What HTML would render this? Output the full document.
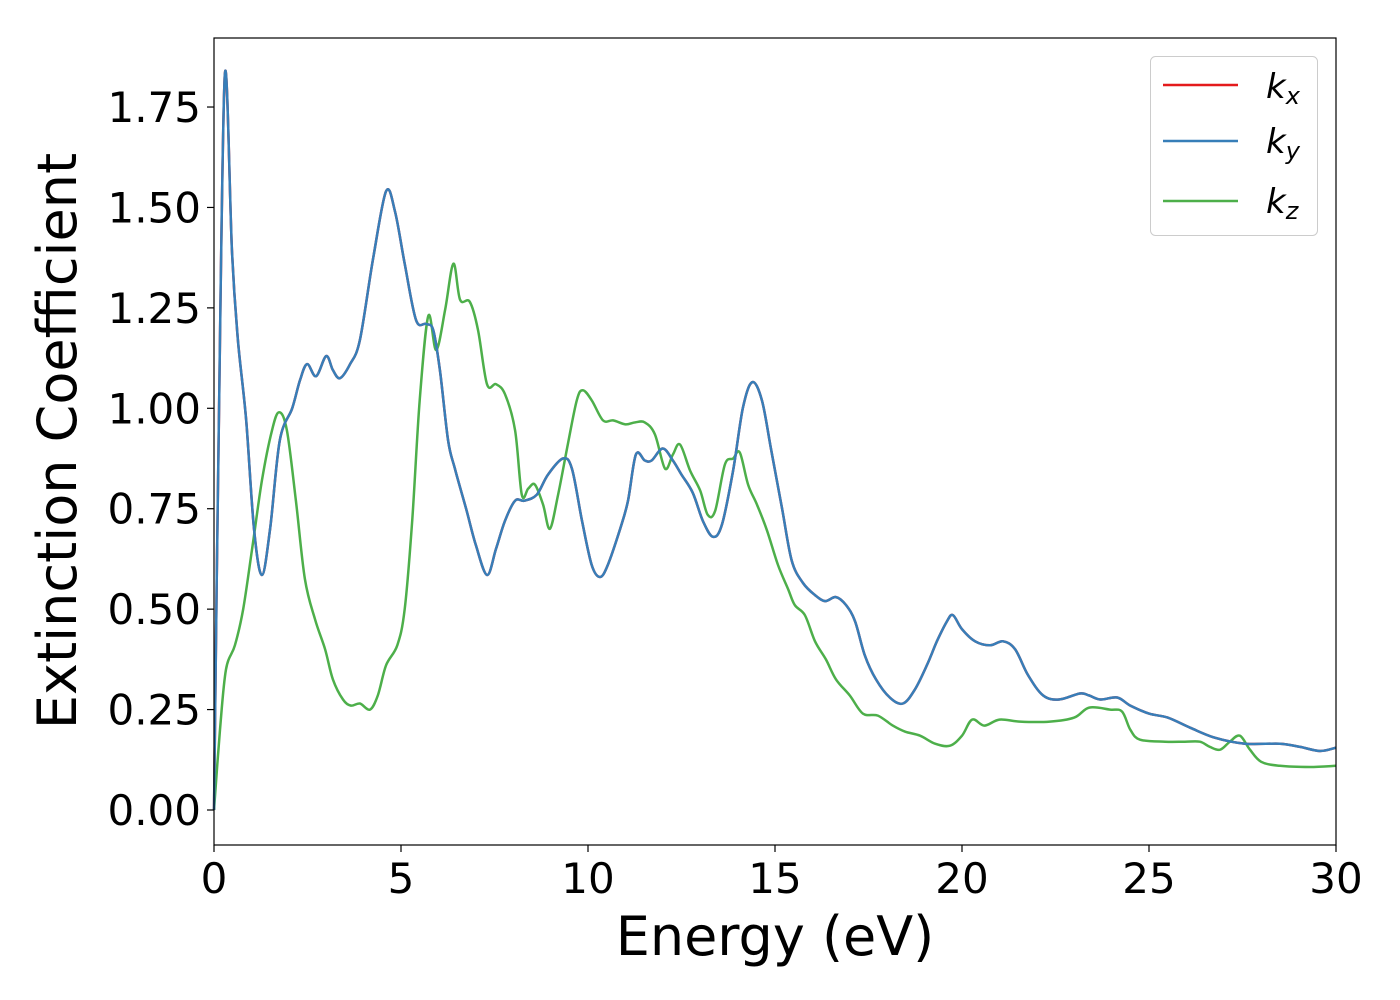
<!DOCTYPE html>
<html><head><meta charset="utf-8"><style>
body{margin:0;background:#fff;}
svg{display:block;font-family:"DejaVu Sans","Liberation Sans",sans-serif;}
</style></head><body>
<svg id="chart" width="1400" height="1000">
<g id="grid"></g>
<g id="series"></g>
<rect x="214" y="38" width="1122" height="807" fill="none" stroke="#000" stroke-width="1.2"/>
<g id="ticks"></g>
<text x="775" y="955" font-size="54" text-anchor="middle">Energy (eV)</text>
<text transform="translate(76,441) rotate(-90)" font-size="54" text-anchor="middle">Extinction Coefficient</text>
<g>
<rect x="1150.5" y="56.5" width="167" height="179" rx="5" fill="#fff" fill-opacity="0.8" stroke="#ccc"/>
<line x1="1163" y1="85" x2="1238" y2="85" stroke="#e41a1c" stroke-width="2.5"/>
<text x="1266" y="98" font-size="34" font-style="italic">k<tspan font-size="24" dy="6">x</tspan></text>
<line x1="1163" y1="141" x2="1238" y2="141" stroke="#377eb8" stroke-width="2.5"/>
<text x="1266" y="153" font-size="34" font-style="italic">k<tspan font-size="24" dy="6">y</tspan></text>
<line x1="1163" y1="201" x2="1238" y2="201" stroke="#4daf4a" stroke-width="2.5"/>
<text x="1266" y="213" font-size="34" font-style="italic">k<tspan font-size="24" dy="6">z</tspan></text>
</g>
</svg>
<script>
const xTicks=[0,5,10,15,20,25,30];
const yTicks=[0,0.25,0.5,0.75,1.0,1.25,1.5,1.75];
const yTickLabels=["0.00","0.25","0.50","0.75","1.00","1.25","1.50","1.75"];
const energyXY=[0,0.12,0.29,0.48,0.64,0.86,1.07,1.28,1.5,1.76,2.09,2.3,2.49,2.73,3.0,3.18,3.37,3.64,3.9,4.25,4.6,4.84,5.1,5.4,5.67,5.86,6.04,6.26,6.44,6.74,7.0,7.3,7.54,7.78,8.05,8.3,8.63,8.93,9.33,9.57,9.84,10.1,10.32,10.53,10.86,11.07,11.28,11.52,11.7,12.0,12.27,12.5,12.8,13.07,13.34,13.58,13.88,14.14,14.39,14.65,14.9,15.19,15.45,15.75,16.07,16.34,16.63,16.9,17.14,17.4,17.7,18.07,18.42,18.74,19.06,19.33,19.6,19.76,20.0,20.35,20.75,21.1,21.42,21.77,22.17,22.6,23.15,23.4,23.7,24.15,24.5,25.0,25.5,26.1,26.76,27.57,28.5,29.04,29.57,30];
const kxy=[0,0.9,1.83,1.39,1.17,0.97,0.70,0.585,0.70,0.92,1.0,1.07,1.11,1.08,1.13,1.095,1.075,1.11,1.17,1.37,1.54,1.49,1.36,1.22,1.21,1.195,1.095,0.92,0.85,0.75,0.66,0.585,0.65,0.72,0.77,0.77,0.785,0.835,0.875,0.85,0.72,0.61,0.58,0.61,0.70,0.77,0.885,0.87,0.87,0.90,0.87,0.835,0.79,0.72,0.68,0.71,0.845,1.0,1.065,1.02,0.895,0.75,0.62,0.565,0.535,0.52,0.53,0.51,0.47,0.385,0.325,0.28,0.265,0.30,0.36,0.42,0.47,0.485,0.45,0.42,0.41,0.42,0.40,0.335,0.285,0.275,0.29,0.285,0.275,0.28,0.26,0.24,0.23,0.205,0.18,0.165,0.165,0.157,0.147,0.155];
const energyZ=[0,0.16,0.32,0.56,0.78,1.02,1.28,1.55,1.74,1.95,2.19,2.43,2.7,2.97,3.18,3.45,3.66,3.9,4.17,4.38,4.6,4.9,5.1,5.3,5.5,5.73,5.94,6.18,6.4,6.58,6.84,7.06,7.3,7.54,7.78,8.05,8.23,8.4,8.58,8.8,8.98,9.2,9.46,9.7,9.86,10.1,10.4,10.67,11.0,11.26,11.52,11.79,12.06,12.27,12.46,12.73,13.0,13.2,13.4,13.66,13.88,14.06,14.28,14.52,14.79,15.08,15.35,15.53,15.8,16.07,16.36,16.63,17.0,17.35,17.75,18.15,18.48,18.88,19.28,19.68,20.0,20.27,20.6,21.0,21.55,22.35,23.0,23.4,23.96,24.28,24.5,24.76,25.43,25.96,26.36,26.63,26.9,27.16,27.43,27.7,28.0,28.5,29.3,30];
const kz=[0,0.2,0.35,0.41,0.5,0.65,0.82,0.945,0.99,0.945,0.77,0.575,0.475,0.40,0.325,0.275,0.26,0.265,0.25,0.285,0.36,0.41,0.5,0.72,1.02,1.23,1.145,1.245,1.36,1.27,1.265,1.195,1.06,1.06,1.035,0.945,0.785,0.80,0.81,0.76,0.70,0.785,0.91,1.02,1.045,1.02,0.97,0.97,0.96,0.965,0.965,0.935,0.85,0.885,0.91,0.845,0.795,0.735,0.745,0.86,0.875,0.89,0.81,0.76,0.695,0.61,0.55,0.51,0.485,0.42,0.375,0.325,0.285,0.24,0.235,0.21,0.195,0.185,0.165,0.16,0.185,0.225,0.21,0.225,0.22,0.22,0.23,0.255,0.25,0.245,0.2,0.175,0.17,0.17,0.17,0.157,0.15,0.17,0.185,0.15,0.12,0.11,0.107,0.11];
const NS="http://www.w3.org/2000/svg";
const X=v=>214+v*(1122/30);
const Y=v=>810-v*401.7;
const tg=document.getElementById('ticks');
function mk(tag,attrs,parent){const e=document.createElementNS(NS,tag);for(const k in attrs)e.setAttribute(k,attrs[k]);parent.appendChild(e);return e;}
xTicks.forEach(t=>{
 const l=mk('line',{x1:X(t),x2:X(t),y1:845,y2:852,stroke:'#000','stroke-width':1.2},tg);
 
 
 const tx=mk('text',{x:X(t),y:893,'font-size':42,'text-anchor':'middle'},tg);
 
 
 tx.textContent=t;
});
yTicks.forEach((t,i)=>{
 const l=mk('line',{x1:207,x2:214,y1:Y(t),y2:Y(t),stroke:'#000','stroke-width':1.2},tg);
 
 
 const tx=mk('text',{x:201,y:Y(t)+15,'font-size':42,'text-anchor':'end'},tg);
 
 
 tx.textContent=yTickLabels[i];
});
function smooth(xs,ys){
 const p=xs.map((x,i)=>[X(x),Y(ys[i])]);
 let d='M'+p[0][0]+','+p[0][1];
 for(let i=0;i<p.length-1;i++){
  const p0=p[Math.max(0,i-1)],p1=p[i],p2=p[i+1],p3=p[Math.min(p.length-1,i+2)];
  const c1=[p1[0]+(p2[0]-p0[0])/6,p1[1]+(p2[1]-p0[1])/6];
  const c2=[p2[0]-(p3[0]-p1[0])/6,p2[1]-(p3[1]-p1[1])/6];
  d+=' C'+c1[0].toFixed(1)+','+c1[1].toFixed(1)+' '+c2[0].toFixed(1)+','+c2[1].toFixed(1)+' '+p2[0].toFixed(1)+','+p2[1].toFixed(1);
 }
 return d;
}
const sg=document.getElementById('series');
const r=mk('path',{d:smooth(energyXY,kxy),fill:'none',stroke:'#e41a1c','stroke-width':2.5},sg);


const g=mk('path',{d:smooth(energyZ,kz),fill:'none',stroke:'#4daf4a','stroke-width':2.5},sg);


const b=mk('path',{d:smooth(energyXY,kxy),fill:'none',stroke:'#377eb8','stroke-width':2.5},sg);


</script>
</body></html>
